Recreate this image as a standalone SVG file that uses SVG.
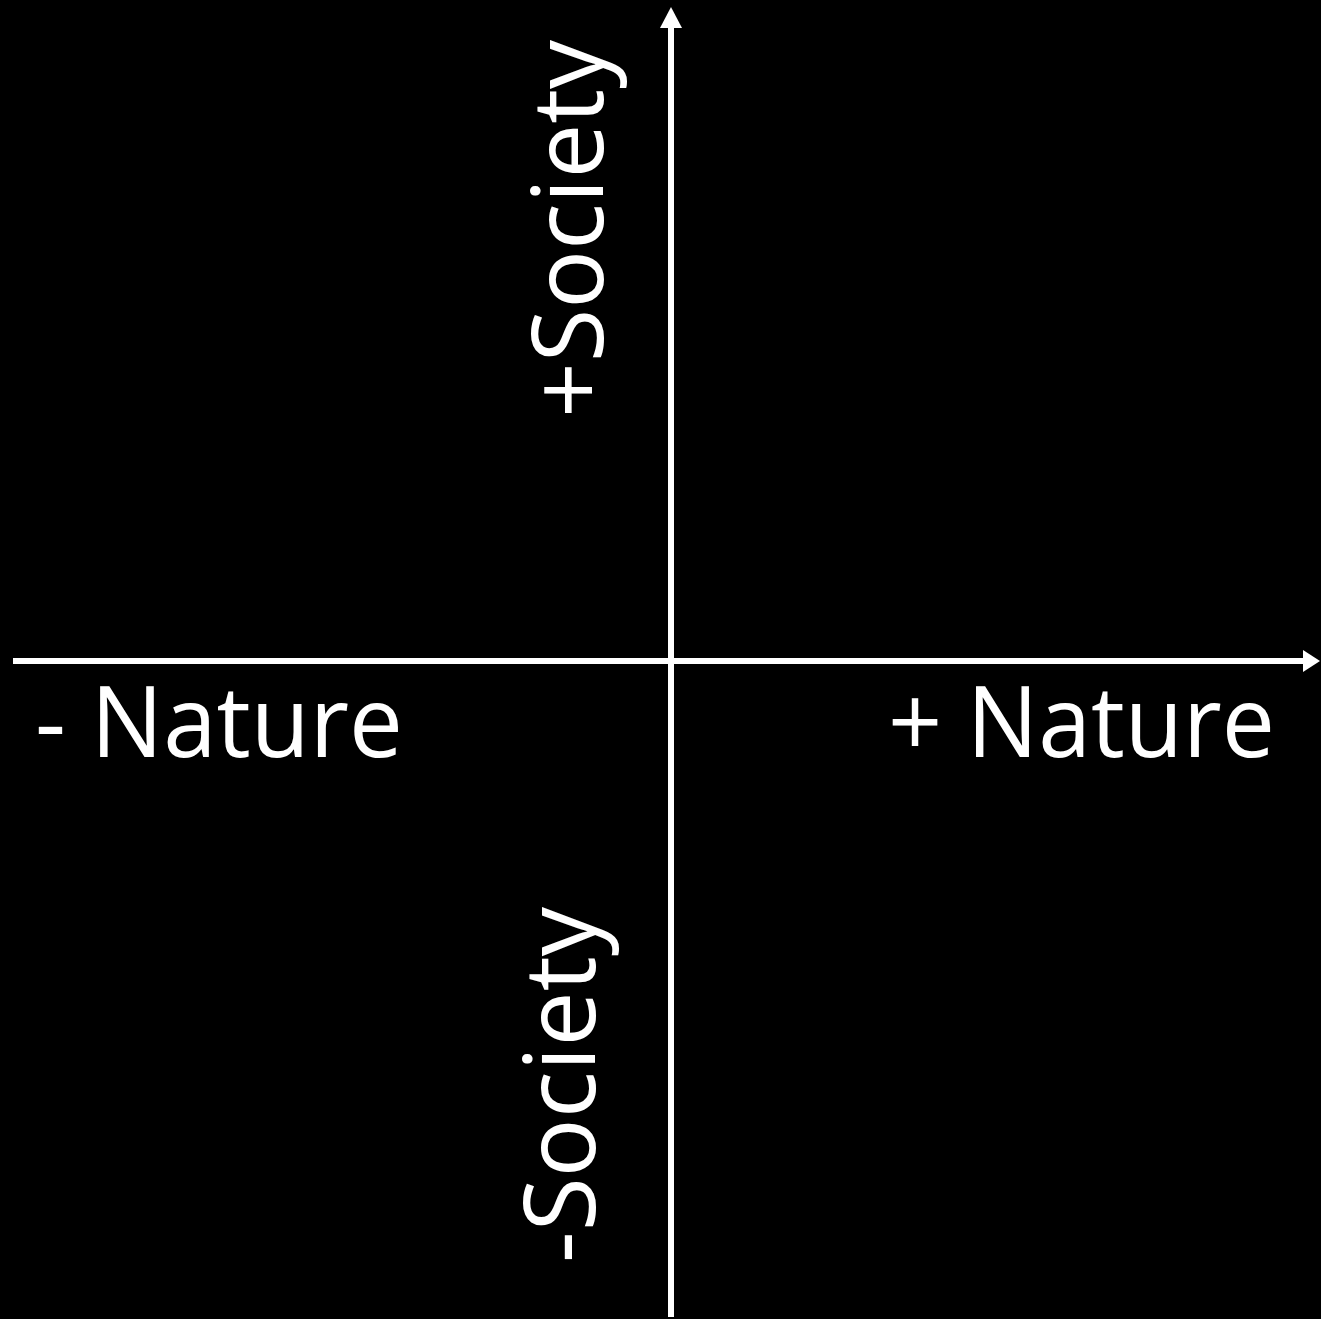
<svg xmlns="http://www.w3.org/2000/svg" width="1321" height="1319" viewBox="0 0 1321 1319">
  <style>
    .axis { stroke: #ffffff; stroke-width: 6; fill: none; }
    .head { fill: #ffffff; }
    .label { fill: #ffffff; font-family: "Open Sans", "Noto Sans", "Liberation Sans", sans-serif; font-size: 98px; }
  </style>
  <rect x="0" y="0" width="1321" height="1319" fill="#000000"/>
  <g id="connectors">
    <line class="axis" x1="13" y1="661" x2="1306" y2="661"/>
    <polygon class="head" points="1320,661 1303,650 1303,672"/>
    <line class="axis" x1="671" y1="1317" x2="671" y2="25"/>
    <polygon class="head" points="671,7 660,28 682,28"/>
  </g>
  <g id="node-minus-nature">
    <text class="label" x="35" y="757" textLength="368" lengthAdjust="spacingAndGlyphs">- Nature</text>
  </g>
  <g id="node-plus-nature">
    <text class="label" x="888" y="757" textLength="387" lengthAdjust="spacingAndGlyphs">+ Nature</text>
  </g>
  <g id="node-plus-society">
    <text class="label" transform="translate(603,418) rotate(-90)" textLength="378" lengthAdjust="spacingAndGlyphs">+Society</text>
  </g>
  <g id="node-minus-society">
    <text class="label" transform="translate(595,1263) rotate(-90)" textLength="356" lengthAdjust="spacingAndGlyphs">-Society</text>
  </g>
</svg>
